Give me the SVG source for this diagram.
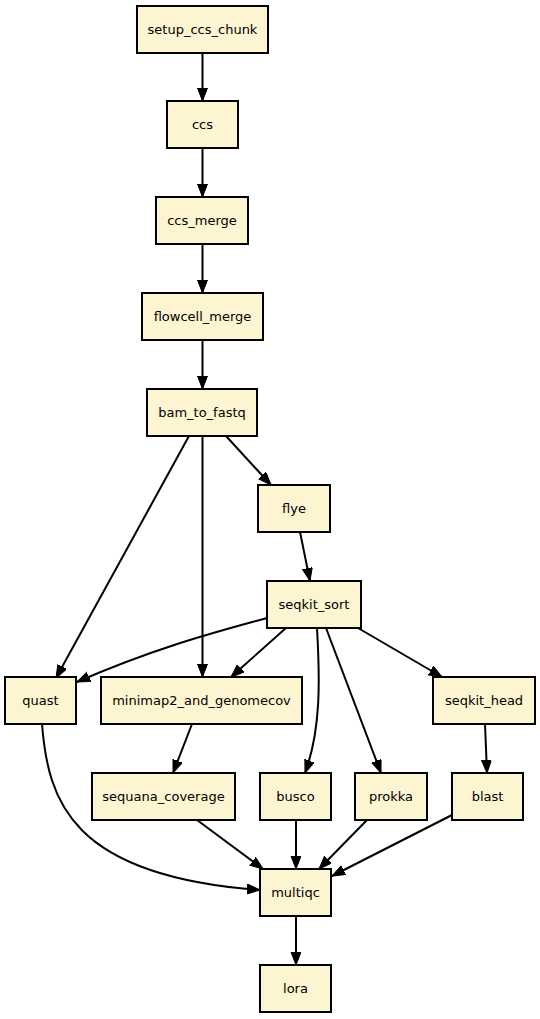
<svg xmlns="http://www.w3.org/2000/svg" width="540" height="1019" viewBox="0 0 540 1019">
<style>
.node rect{fill:#fdf4d2;stroke:#000;stroke-width:2}
.node text{font-family:"DejaVu Sans",sans-serif;font-size:13px;text-anchor:middle;fill:#000}
.edges path{fill:none;stroke:#000;stroke-width:2;marker-end:url(#arr)}
</style>
<defs>
<marker id="arr" markerUnits="userSpaceOnUse" markerWidth="14" markerHeight="12" refX="13" refY="5" orient="auto">
<path d="M0,0 L13,5 L0,10 z" fill="#000" stroke="#000" stroke-width="1"/>
</marker>
</defs>
<rect width="540" height="1019" fill="#fff"/>
<g class="edges">
<path d="M202.5,53 L202.5,101"/>
<path d="M202.5,148 L202.5,197"/>
<path d="M202.5,244 L202.5,293"/>
<path d="M202.5,340 L202.5,389"/>
<path d="M226,436 L271,485"/>
<path d="M189,436 L56,678"/>
<path d="M202.5,436 L202.5,677"/>
<path d="M300,532 L310,581"/>
<path d="M267,618 C220,631 160,646 77,682"/>
<path d="M286,628 L231,677"/>
<path d="M317,628 C320,680 321,730 305,773"/>
<path d="M326,628 L381,773"/>
<path d="M358,628 L442,677"/>
<path d="M485,724 L487,773"/>
<path d="M192,724 L173,773"/>
<path d="M42,724 C48,800 70,876 260,890"/>
<path d="M197,820 L263,869"/>
<path d="M296,820 L296,869"/>
<path d="M367,820 L319,869"/>
<path d="M452,815 L332,876"/>
<path d="M296,916 L296,965"/>
</g>
<g id="setup_ccs_chunk" class="node"><rect x="137" y="6" width="131" height="47"/><text x="202.5" y="34">setup_ccs_chunk</text></g>
<g id="ccs" class="node"><rect x="167" y="101" width="71" height="47"/><text x="202.5" y="129">ccs</text></g>
<g id="ccs_merge" class="node"><rect x="156" y="197" width="92" height="47"/><text x="202" y="225">ccs_merge</text></g>
<g id="flowcell_merge" class="node"><rect x="142" y="293" width="121" height="47"/><text x="202.5" y="321">flowcell_merge</text></g>
<g id="bam_to_fastq" class="node"><rect x="147" y="389" width="110" height="47"/><text x="202" y="417">bam_to_fastq</text></g>
<g id="flye" class="node"><rect x="258" y="485" width="72" height="47"/><text x="294" y="513">flye</text></g>
<g id="seqkit_sort" class="node"><rect x="267" y="581" width="94" height="47"/><text x="314" y="609">seqkit_sort</text></g>
<g id="quast" class="node"><rect x="5" y="677" width="71" height="47"/><text x="40.5" y="705">quast</text></g>
<g id="minimap2_and_genomecov" class="node"><rect x="101" y="677" width="201" height="47"/><text x="201.5" y="705">minimap2_and_genomecov</text></g>
<g id="seqkit_head" class="node"><rect x="433" y="677" width="102" height="47"/><text x="484" y="705">seqkit_head</text></g>
<g id="sequana_coverage" class="node"><rect x="92" y="773" width="143" height="47"/><text x="163.5" y="801">sequana_coverage</text></g>
<g id="busco" class="node"><rect x="260" y="773" width="71" height="47"/><text x="295.5" y="801">busco</text></g>
<g id="prokka" class="node"><rect x="355" y="773" width="72" height="47"/><text x="391" y="801">prokka</text></g>
<g id="blast" class="node"><rect x="452" y="773" width="71" height="47"/><text x="487.5" y="801">blast</text></g>
<g id="multiqc" class="node"><rect x="260" y="869" width="71" height="47"/><text x="295.5" y="897">multiqc</text></g>
<g id="lora" class="node"><rect x="260" y="965" width="71" height="47"/><text x="295.5" y="993">lora</text></g>
</svg>
